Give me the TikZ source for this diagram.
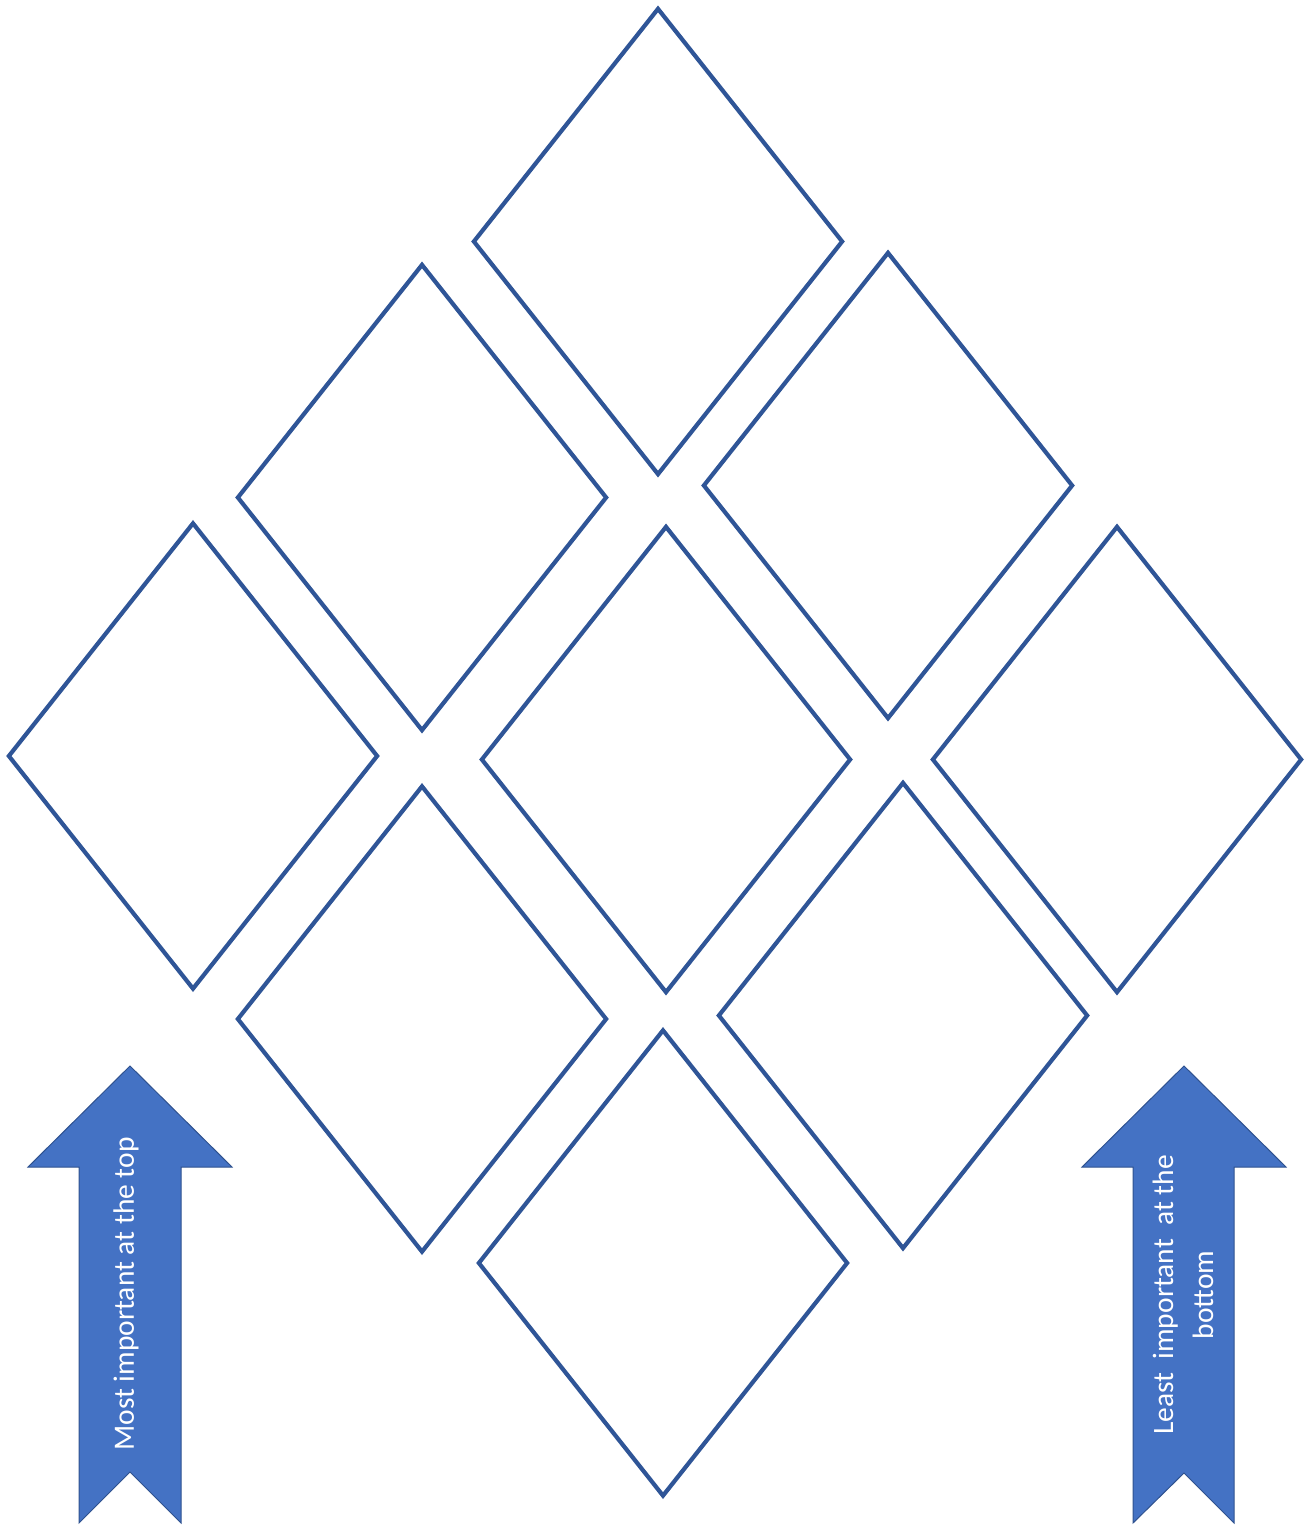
\documentclass[tikz,border=0pt]{standalone}
\usepackage{fontspec}
\setmainfont{Carlito}
\usetikzlibrary{shapes.geometric}
\definecolor{rimblue}{HTML}{2F5597}
\definecolor{arrowfill}{HTML}{4472C4}
\definecolor{arrowedge}{HTML}{2F528F}
\tikzset{
  tile/.style={diamond, draw=rimblue, line width=4.2pt, fill=white,
    minimum width=370pt, minimum height=467pt, inner sep=0pt, line join=miter},
  bannerarrow/.style={fill=arrowfill, draw=arrowedge, line width=1pt},
  bannertext/.style={text=white, font=\fontsize{29.5}{40}\selectfont, rotate=90, align=center, inner sep=0pt}
}
\begin{document}
\begin{tikzpicture}[x=1pt,y=-1pt]
\useasboundingbox (0,0) rectangle (1313,1526);
% diamond tiles, top to bottom
\node[tile] (t1) at (658,241.5) {};
\node[tile] (t2) at (422,497.5) {};
\node[tile] (t3) at (888,485.5) {};
\node[tile] (t4) at (193,756) {};
\node[tile] (t5) at (666,759.5) {};
\node[tile] (t6) at (1117,759.5) {};
\node[tile] (t7) at (422,1019) {};
\node[tile] (t8) at (903,1015.5) {};
\node[tile] (t9) at (663,1263) {};
% left upward arrow
\draw[bannerarrow] (130,1066) -- (232,1167) -- (181,1167) -- (181,1523) -- (130,1472)
  -- (79,1523) -- (79,1167) -- (28,1167) -- cycle;
\node[bannertext] (lefttxt) at (126,1294) {Most important at the top};
% right upward arrow
\draw[bannerarrow] (1184,1066) -- (1286,1167) -- (1234,1167) -- (1234,1523) -- (1184,1473)
  -- (1133,1523) -- (1133,1167) -- (1082,1167) -- cycle;
\node[bannertext] (righttxt) at (1183,1295) {Least\ \ important\ \ at the\\bottom};
\end{tikzpicture}
\end{document}
